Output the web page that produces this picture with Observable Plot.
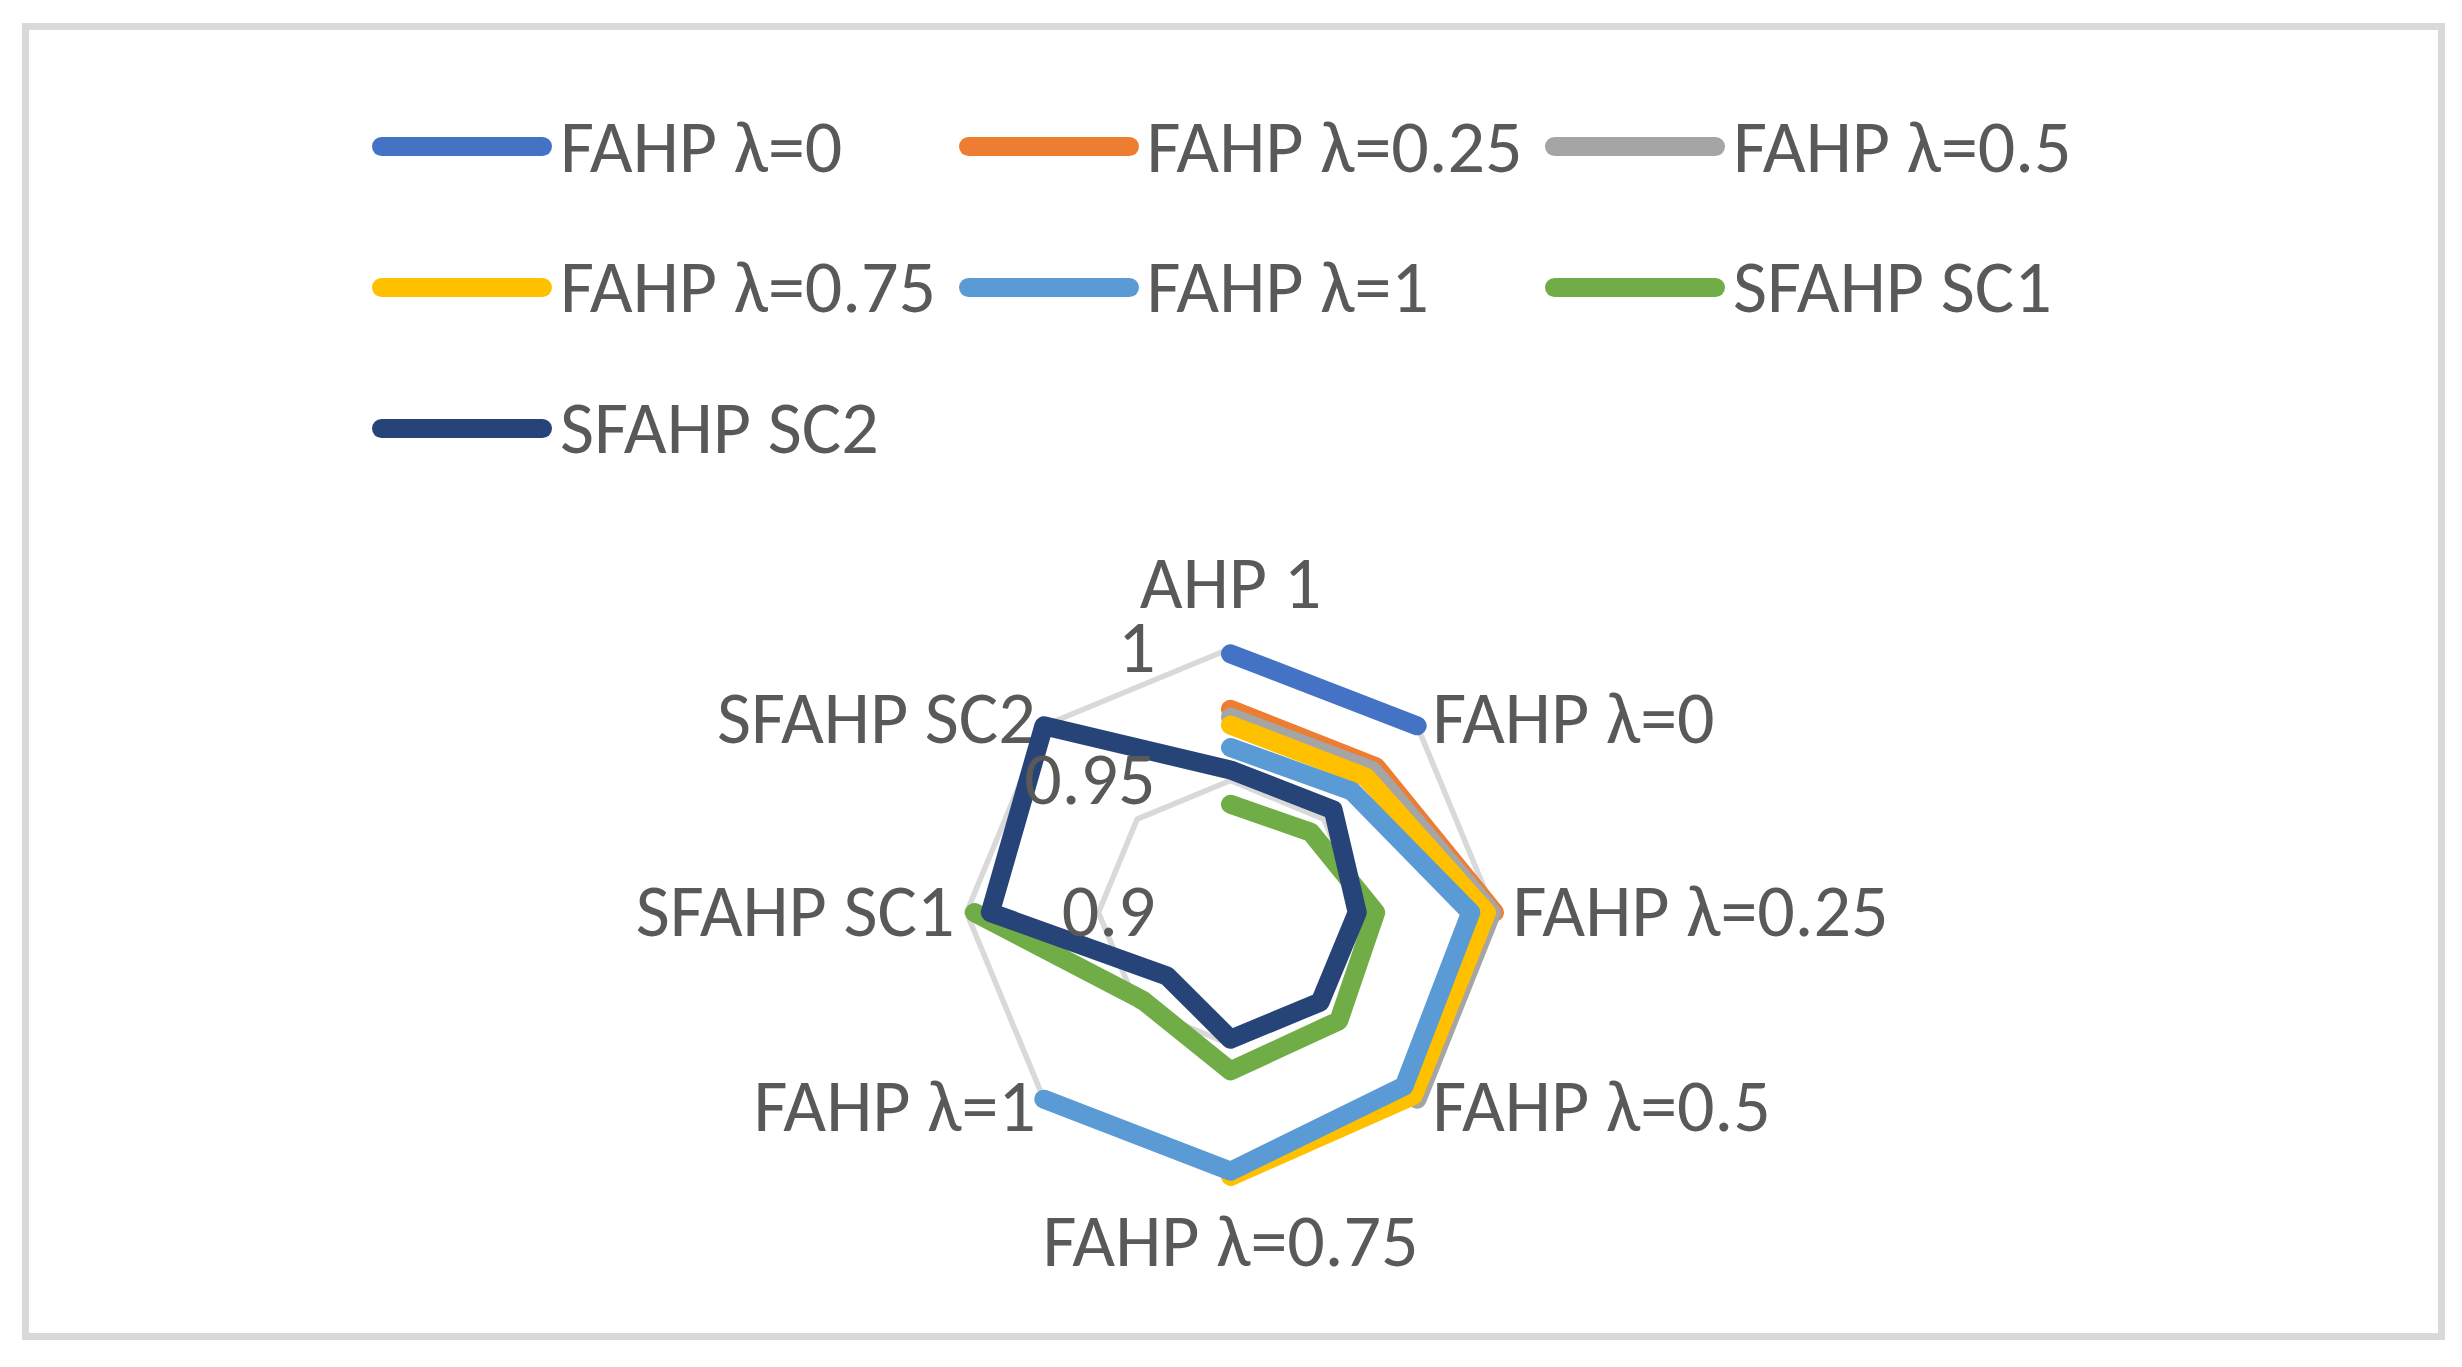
<!DOCTYPE html>
<html><head><meta charset="utf-8">
<script src="https://cdn.jsdelivr.net/npm/d3@7"></script>
<script src="https://cdn.jsdelivr.net/npm/@observablehq/plot@0.6"></script>
<style>
html,body{margin:0;padding:0;background:#fff;}
#page{position:relative;width:2462px;height:1367px;overflow:hidden;font-family:Carlito, Calibri, "Open Sans", sans-serif;background:#fff;}
#frame{position:absolute;left:22px;top:23px;width:2423px;height:1317px;box-sizing:border-box;border:7px solid #d9d9d9;}
#legend{position:absolute;left:0;top:0;width:2462px;height:470px;}
.item{position:absolute;height:0;}
.sw{position:absolute;left:0;top:-9.5px;width:180px;height:19px;border-radius:9.5px;}
.lab{position:absolute;left:188px;top:0;transform:translateY(-50%);font-size:74px;color:#595959;white-space:nowrap;line-height:1;}
#chart{position:absolute;left:0;top:470px;}
</style></head><body>
<div id="page"><div id="frame"></div><div id="legend"></div><div id="chart"></div></div>
<script>
// ---- data ----
const axes = ["AHP 1", "FAHP λ=0", "FAHP λ=0.25", "FAHP λ=0.5", "FAHP λ=0.75", "FAHP λ=1", "SFAHP SC1", "SFAHP SC2"];
const seriesNames = ["FAHP λ=0", "FAHP λ=0.25", "FAHP λ=0.5", "FAHP λ=0.75", "FAHP λ=1", "SFAHP SC1", "SFAHP SC2"];
const seriesColors = ["#4472C4", "#ED7D31", "#A5A5A5", "#FFC000", "#5B9BD5", "#70AD47", "#264478"];
const valsFAHP0   = [0.998, 1.0, null, null, null, null, null, null];
const valsFAHP025 = [0.977, 0.978, 1.0, null, null, null, null, null];
const valsFAHP05  = [0.974, 0.976, 0.999, 1.0, null, null, null, null];
const valsFAHP075 = [0.971, 0.9725, 0.997, 0.998, 1.0, null, null, null];
const valsFAHP1   = [0.9625, 0.965, 0.991, 0.993, 0.998, 1.0, null, null];
const valsSC1     = [0.941, 0.943, 0.955, 0.958, 0.960, 0.947, 0.997, null];
const valsSC2     = [0.954, 0.955, 0.948, 0.948, 0.948, 0.934, 0.991, 1.0];
const seriesValues = [valsFAHP0, valsFAHP025, valsFAHP05, valsFAHP075, valsFAHP1, valsSC1, valsSC2];
const tickValues = [0.9, 0.95, 1];
const tickLabels = ["0.9", "0.95", "1"];
const rMin = 0.9, rMax = 1;

// ---- geometry helpers ----
const n = axes.length;
const ang = i => i * 2 * Math.PI / n;
const rad = v => (v - rMin) / (rMax - rMin);

// series points (gaps for missing values, closing segment when both ends exist)
const pts = [];
seriesValues.forEach((vals, s) => {
  const idx = d3.range(n);
  if (vals[0] != null && vals[n - 1] != null) idx.push(0);
  idx.forEach(i => {
    const v = vals[i];
    if (v == null) pts.push({series: seriesNames[s], x: NaN, y: NaN});
    else pts.push({series: seriesNames[s], x: rad(v) * Math.sin(ang(i)), y: rad(v) * Math.cos(ang(i))});
  });
});

// grid rings
const rings = [];
tickValues.filter(t => t > rMin).forEach(t => {
  d3.range(n + 1).forEach(k => {
    const i = k % n;
    rings.push({tick: t, x: rad(t) * Math.sin(ang(i)), y: rad(t) * Math.cos(ang(i))});
  });
});

// ---- legend (HTML, above the SVG) ----
const legend = document.getElementById("legend");
seriesNames.forEach((name, i) => {
  const it = document.createElement("div");
  it.className = "item";
  it.style.left = (372 + (i % 3) * 586.5) + "px";
  it.style.top = (146.7 + Math.floor(i / 3) * 140.7) + "px";
  const sw = document.createElement("div");
  sw.className = "sw";
  sw.style.background = seriesColors[i];
  const lb = document.createElement("div");
  lb.className = "lab";
  lb.textContent = name;
  it.appendChild(sw); it.appendChild(lb);
  legend.appendChild(it);
});

// ---- chart ----
const R = 264, CX = 1230, CY = 442;
const fontFamily = 'Carlito, Calibri, "Open Sans", sans-serif';
// label pixel offsets from each axis end (layout only)
const labelDx = [0, 15, 18, 15, 0, -8, -12, -8];
const labelDy = [-41, -7, 0, 8, 37, 8, 0, -7];
const labelMarks = axes.map((a, i) => {
  const s = Math.sin(ang(i)), c = Math.cos(ang(i));
  return Plot.text([a], {
    x: () => s, y: () => c, text: d => d,
    dx: labelDx[i], dy: labelDy[i],
    textAnchor: s > 0.01 ? "start" : s < -0.01 ? "end" : "middle",
    lineAnchor: i === 0 ? "bottom" : i === n / 2 ? "top" : "middle",
    fill: "#595959", fontSize: 74
  });
});

const chart = Plot.plot({
  width: 2462,
  height: 850,
  margin: 0,
  style: {fontFamily, background: "transparent", overflow: "visible"},
  x: {type: "linear", domain: [-1, 1], range: [CX - R, CX + R], axis: null},
  y: {type: "linear", domain: [-1, 1], range: [CY + R, CY - R], axis: null},
  color: {domain: seriesNames, range: seriesColors},
  marks: [
    Plot.line(rings, {x: "x", y: "y", z: "tick", stroke: "#d9d9d9", strokeWidth: 5.5, strokeLinejoin: "miter"}),
    ...labelMarks,
    Plot.line(pts, {x: "x", y: "y", z: "series", stroke: "series", strokeWidth: 19,
      strokeLinecap: "round", strokeLinejoin: "round"}),
    Plot.text(tickValues, {x: 0, y: d => rad(d), text: (d, i) => tickLabels[i],
      textAnchor: "end", lineAnchor: "middle", dx: -75, fill: "#595959", fontSize: 74})
  ]
});
document.getElementById("chart").appendChild(chart);
</script>
</body></html>
